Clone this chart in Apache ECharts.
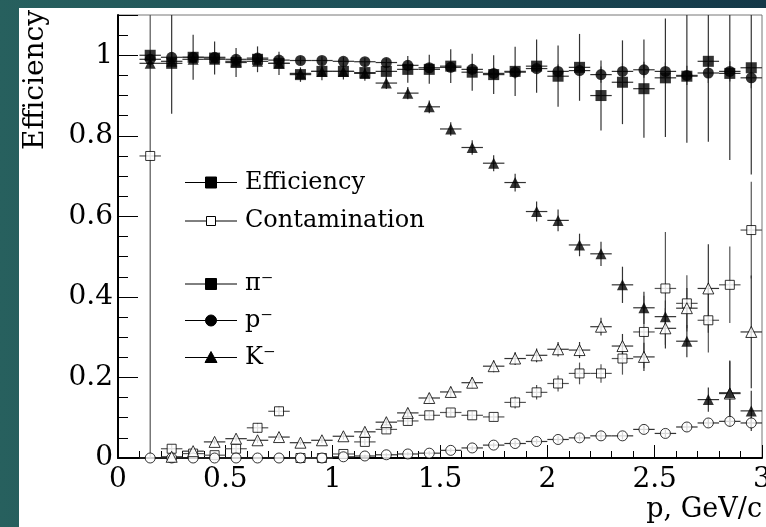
<!DOCTYPE html>
<html>
<head>
<meta charset="utf-8">
<script src="https://cdn.jsdelivr.net/npm/echarts@6/dist/echarts.min.js"></script>
<style>
html,body{margin:0;padding:0;width:766px;height:527px;overflow:hidden;}
body{background:linear-gradient(to right,#27605e 0%,#1e5058 45%,#143848 100%);}
#panel{position:absolute;left:19px;top:8px;right:0;bottom:0;background:#fff;}
#chart{position:absolute;left:0;top:0;width:766px;height:527px;}
</style>
</head>
<body>
<div id="panel"></div>
<div id="chart"></div>
<script>
// ---- data ----
const momentum = [0.15,0.25,0.35,0.45,0.55,0.65,0.75,0.85,0.95,1.05,1.15,1.25,1.35,1.45,1.55,1.65,1.75,1.85,1.95,2.05,2.15,2.25,2.35,2.45,2.55,2.65,2.75,2.85,2.95];
const binHalfWidth = 0.05;

const piEff    = [1.0,0.98,0.995,0.993,0.982,0.99,0.98,0.952,0.96,0.96,0.957,0.96,0.965,0.965,0.973,0.958,0.952,0.96,0.973,0.948,0.97,0.9,0.933,0.917,0.944,0.948,0.985,0.955,0.969];
const piEffErr = [0.01,0.125,0.056,0.041,0.036,0.032,0.029,0.018,0.022,0.02,0.02,0.02,0.033,0.036,0.042,0.046,0.048,0.061,0.066,0.076,0.083,0.087,0.104,0.122,0.147,0.165,0.2,0.215,0.265];

const pEff     = [0.99,0.995,0.995,0.995,0.99,0.993,0.988,0.987,0.987,0.985,0.984,0.982,0.975,0.969,0.97,0.965,0.955,0.958,0.967,0.96,0.962,0.952,0.96,0.964,0.96,0.95,0.956,0.96,0.944];
const pEffErr  = [0.005,0.01,0.01,0.01,0.01,0.01,0.01,0.01,0.01,0.01,0.01,0.01,0.012,0.012,0.013,0.014,0.015,0.016,0.016,0.017,0.018,0.02,0.02,0.02,0.022,0.024,0.025,0.025,0.026];

const kEff     = [0.98,0.985,0.99,0.99,0.985,0.985,0.98,0.955,0.96,0.96,0.955,0.931,0.906,0.872,0.817,0.771,0.732,0.684,0.612,0.59,0.529,0.507,0.43,0.373,0.351,0.29,0.145,0.162,0.117];
const kEffErr  = [0.01,0.01,0.01,0.01,0.01,0.01,0.01,0.012,0.012,0.013,0.013,0.015,0.015,0.016,0.017,0.018,0.02,0.022,0.025,0.027,0.028,0.03,0.045,0.04,0.04,0.04,0.03,0.08,0.05];

const piCon    = [0.75,0.023,0.011,0.007,0.023,0.075,0.116,0.0,0.0,0.01,0.04,0.071,0.092,0.106,0.113,0.106,0.102,0.138,0.163,0.185,0.21,0.21,0.247,0.313,0.421,0.384,0.342,0.43,0.566];
const piConErr = [0.75,0.01,0.005,0.004,0.01,0.012,0.012,0.003,0.003,0.005,0.008,0.01,0.01,0.01,0.01,0.01,0.01,0.015,0.018,0.02,0.027,0.023,0.04,0.09,0.14,0.07,0.08,0.095,0.12];

const pCon     = [0,0,0,0,0,0,0,0,0,0.003,0.005,0.008,0.01,0.012,0.019,0.025,0.032,0.036,0.041,0.046,0.05,0.055,0.055,0.071,0.061,0.077,0.087,0.091,0.087];
const pConErr  = [0,0,0,0,0,0,0,0,0,0.002,0.003,0.004,0.004,0.005,0.005,0.006,0.006,0.007,0.007,0.008,0.008,0.009,0.009,0.01,0.01,0.011,0.012,0.013,0.014];

const kCon     = [null,0.003,0.017,0.04,0.048,0.044,0.052,0.038,0.044,0.054,0.065,0.089,0.112,0.149,0.164,0.187,0.228,0.247,0.255,0.27,0.268,0.326,0.278,0.251,0.322,0.372,0.421,0.16,0.313];
const kConErr  = [0,0.003,0.005,0.006,0.007,0.007,0.007,0.006,0.007,0.008,0.009,0.01,0.011,0.012,0.013,0.014,0.015,0.016,0.017,0.018,0.02,0.022,0.03,0.035,0.05,0.05,0.11,0.08,0.14];

const xTickLabels = ['0','0.5','1','1.5','2','2.5','3'];
const yTickLabels = ['0','0.2','0.4','0.6','0.8','1'];

// ---- build ----
const FONT = '"DejaVu Serif", "Liberation Serif", serif';
const chart = echarts.init(document.getElementById('chart'), null, {renderer:'canvas'});

function pts(vals){ return momentum.map((x,i)=> vals[i]==null ? null : [x, vals[i]]).filter(d=>d); }
function errPts(vals, errs){ return momentum.map((x,i)=> vals[i]==null ? null : [x, vals[i], errs[i]]).filter(d=>d); }

function errSeries(name, vals, errs, color){
  return {
    name: name + ' err', type:'custom', xAxisIndex:0, yAxisIndex:0, z:2, silent:true,
    data: errPts(vals, errs),
    encode:{x:0, y:1},
    renderItem: function(params, api){
      const x = api.value(0), y = api.value(1), e = api.value(2);
      const cs = params.coordSys;
      const cl = v => Math.max(cs.y, Math.min(cs.y + cs.height, v));
      const c = api.coord([x, y]);
      const l = api.coord([x - binHalfWidth, y]);
      const r = api.coord([x + binHalfWidth, y]);
      const t = cl(api.coord([x, y + e])[1]);
      const b = cl(api.coord([x, y - e])[1]);
      const cy = cl(c[1]);
      const ch = [{type:'line', shape:{x1:l[0], y1:cy, x2:r[0], y2:cy}, style:{stroke:color, lineWidth:1.2}}];
      if (b - t > 0.5) ch.push({type:'line', shape:{x1:c[0], y1:t, x2:c[0], y2:b}, style:{stroke:color, lineWidth:1.2}});
      return {type:'group', children:ch};
    }
  };
}
function markSeries(name, vals, symbol, size, filled){
  return {
    name:name, type:'scatter', z:3, silent:true,
    data: pts(vals), symbol:symbol, symbolSize:size,
    itemStyle: filled ? {color:'#000'} : {color:'#fff', borderColor:'#000', borderWidth:1},
    emphasis:{disabled:true}
  };
}

const ERRC = '#333';
const series = [
  errSeries('pi contamination', piCon, piConErr, '#555'),
  errSeries('p contamination', pCon, pConErr, ERRC),
  errSeries('K contamination', kCon, kConErr, ERRC),
  errSeries('K efficiency', kEff, kEffErr, ERRC),
  errSeries('p efficiency', pEff, pEffErr, ERRC),
  errSeries('pi efficiency', piEff, piEffErr, ERRC),
  markSeries('pi contamination', piCon, 'rect', 9, false),
  markSeries('p contamination', pCon, 'circle', 10, false),
  markSeries('K contamination', kCon, 'triangle', 11, false),
  markSeries('K efficiency', kEff, 'triangle', 11, true),
  markSeries('p efficiency', pEff, 'circle', 11, true),
  markSeries('pi efficiency', piEff, 'rect', 11, true)
];

function labelFrom(arr, step){
  return function(v){
    const i = Math.round(v / step);
    if (Math.abs(v - i * step) < 1e-6 && i >= 0 && i < arr.length) return arr[i];
    return '';
  };
}

// legend graphics (ROOT-style, inside the frame)
const legendRows = [
  {y:182.5, text:'Efficiency', shape:'rect', filled:true},
  {y:221, text:'Contamination', shape:'rect', filled:false},
  {y:284, text:'π⁻', shape:'rect', filled:true},
  {y:320.5, text:'p⁻', shape:'circle', filled:true},
  {y:357.5, text:'K⁻', shape:'triangle', filled:true}
];
const legendGraphics = [];
legendRows.forEach(r=>{
  legendGraphics.push({type:'line', shape:{x1:185, y1:r.y, x2:237, y2:r.y}, style:{stroke:'#000', lineWidth:1}, z:10});
  const fill = r.filled ? '#000' : '#fff';
  const s = r.filled ? 11 : 9;
  if (r.shape === 'rect') legendGraphics.push({type:'rect', shape:{x:211 - s/2, y:r.y - s/2, width:s, height:s}, style:{fill:fill, stroke:'#000', lineWidth:1}, z:11});
  else if (r.shape === 'circle') legendGraphics.push({type:'circle', shape:{cx:211, cy:r.y, r:5.5}, style:{fill:fill, stroke:'#000', lineWidth:1}, z:11});
  else legendGraphics.push({type:'polygon', shape:{points:[[211, r.y-6],[217, r.y+5],[205, r.y+5]]}, style:{fill:fill, stroke:'#000', lineWidth:1}, z:11});
  legendGraphics.push({type:'text', x:245, y:r.y, style:{text:r.text, font:'24px ' + FONT, fill:'#000', align:'left', verticalAlign:'middle'}, z:11});
});
legendGraphics.push({type:'text', x:36, y:80, rotation:Math.PI/2, style:{text:'Efficiency', font:'28px ' + FONT, fill:'#000', align:'center', verticalAlign:'middle'}, z:11});
legendGraphics.push({type:'text', x:762, y:510, style:{text:'p, GeV/c', font:'27px ' + FONT, fill:'#000', align:'right', verticalAlign:'middle'}, z:11});

const option = {
  backgroundColor:'transparent',
  animation:false,
  grid:{left:118, top:15, width:644, height:443, show:true, borderColor:'#777', borderWidth:1, backgroundColor:'transparent', containLabel:false, outerBoundsMode:'none'},
  xAxis:{
    type:'value', min:0, max:3, interval:0.5,
    axisLine:{show:true, onZero:false, lineStyle:{color:'#000', width:2}},
    axisTick:{show:true, inside:true, length:13, lineStyle:{color:'#000', width:1}},
    minorTick:{show:true, splitNumber:5, length:7, lineStyle:{color:'#000', width:1}},
    splitLine:{show:false}, minorSplitLine:{show:false},
    axisLabel:{show:true, margin:8, color:'#000', fontFamily:FONT, fontSize:28, formatter:labelFrom(xTickLabels, 0.5), showMinLabel:true, showMaxLabel:true}
  },
  yAxis:[{
    type:'value', min:0, max:1.1, interval:0.2,
    axisLine:{show:true, onZero:false, lineStyle:{color:'#000', width:2}},
    axisTick:{show:true, inside:true, length:20, lineStyle:{color:'#000', width:1}},
    splitLine:{show:false},
    axisLabel:{show:true, margin:5, color:'#000', fontFamily:FONT, fontSize:28, formatter:labelFrom(yTickLabels, 0.2), showMinLabel:true, showMaxLabel:true}
  },{
    type:'value', min:0, max:1.1, interval:0.05, position:'left',
    axisLine:{show:false},
    axisTick:{show:true, inside:true, length:10, lineStyle:{color:'#000', width:1}},
    splitLine:{show:false},
    axisLabel:{show:false}
  }],
  graphic: legendGraphics,
  series: series
};
chart.setOption(option);
</script>
</body>
</html>
